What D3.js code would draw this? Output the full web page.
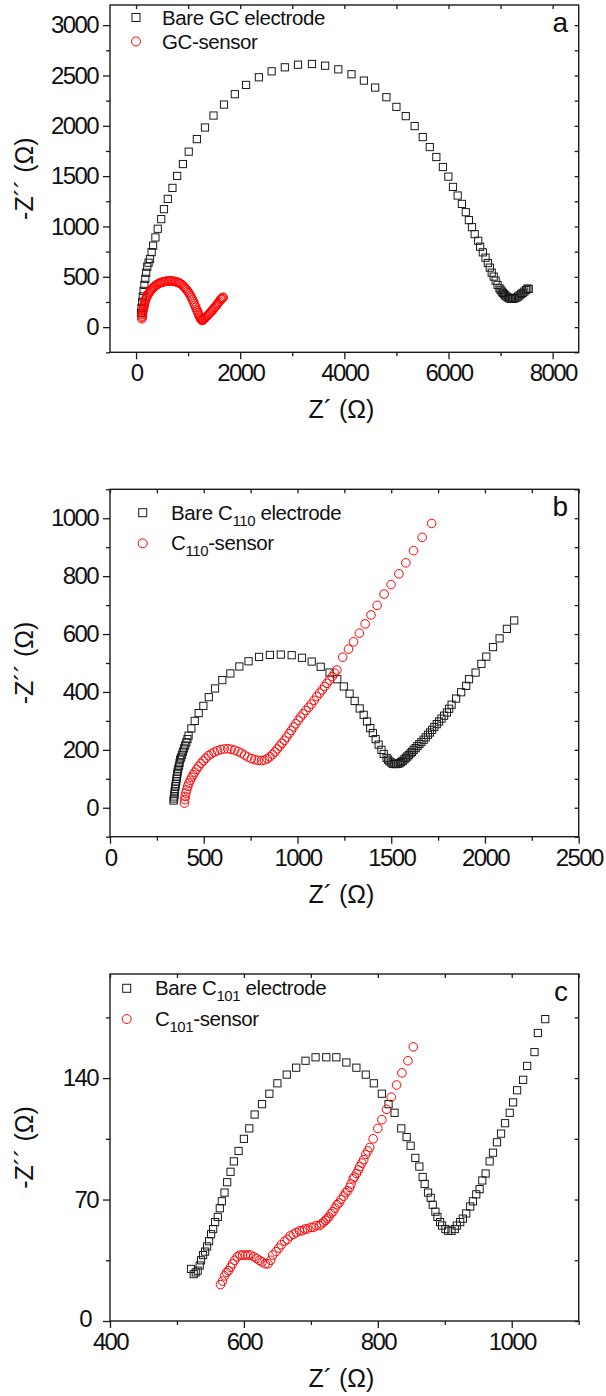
<!DOCTYPE html>
<html>
<head>
	<script src="https://cdn.jsdelivr.net/npm/d3@7"></script>
	<style>
		html, body {
			padding: 0;
			margin: 0;
			background: white;
		}
		text {
			font-family: "Liberation Sans", Arial, sans-serif;
			fill: #111;
		}
	</style>
</head>
<body>
	<script>
		// ~ ~ ~ DATA ~ ~ ~
		// panel a : glassy carbon
		var gcBare = [
			[95,140],[105,190],[118,250],[130,305],[145,360],[160,420],[178,480],[195,540],[215,600],[240,640],
			[268,677],[300,745],[327,809],[372,891],[417,977],[484,1073],[536,1172],[610,1274],[699,1383],[789,1502],
			[900,1620],[1012,1743],[1168,1868],[1324,1983],[1488,2102],[1689,2211],[1897,2314],[2113,2406],[2359,2482],[2604,2541],
			[2857,2581],[3110,2607],[3378,2614],[3631,2597],[3884,2561],[4137,2512],[4375,2449],[4591,2380],[4807,2284],[5000,2188],
			[5179,2096],[5350,1997],[5506,1888],[5640,1789],[5766,1690],[5893,1591],[5997,1495],[6086,1393],[6176,1307],[6257,1224],
			[6332,1142],[6391,1063],[6451,993],[6503,924],[6570,858],[6607,799],[6659,743],[6711,690],[6756,637],[6793,591],
			[6830,541],[6868,502],[6905,462],[6942,419],[6979,386],[7000,370],[7024,353],[7045,340],[7068,327],[7090,315],
			[7113,304],[7140,295],[7165,287],[7190,283],[7217,281],[7245,282],[7277,287],[7305,294],[7336,304],[7365,316],
			[7396,330],[7425,340],[7455,353],[7490,368],[7515,383],[7540,380]
		];
		var gcSensor = [
			[112,83],[115,96],[118,110],[121,125],[125,139],[130,155],[135,170],[141,185],[148,200],[154,214],
			[160,228],[167,244],[175,260],[185,275],[195,290],[208,304],[223,318],[238,332],[255,345],[272,357],
			[290,368],[307,379],[325,390],[341,398],[357,405],[378,414],[400,422],[423,429],[446,436],[470,441],
			[495,446],[519,449],[543,452],[572,455],[600,457],[628,458],[655,459],[683,458],[710,456],[738,454],
			[766,452],[790,447],[815,442],[839,436],[863,429],[887,419],[910,408],[931,396],[952,383],[971,371],
			[990,358],[1008,344],[1027,330],[1046,311],[1065,292],[1083,273],[1101,254],[1116,235],[1130,215],[1146,197],
			[1161,178],[1175,162],[1188,145],[1201,128],[1213,112],[1227,98],[1240,85],[1252,75],[1265,66],[1280,70],
			[1295,75],[1310,82],[1324,89],[1342,98],[1360,108],[1380,118],[1399,129],[1417,140],[1435,150],[1454,161],
			[1473,172],[1492,184],[1510,196],[1529,208],[1548,221],[1567,233],[1585,246],[1604,258],[1622,271],[1636,278],
			[1650,285],[1662,291],[1674,297]
		];

		// panel b : C110
		var c110Bare = [
			[339,25],[341,32],[343,39],[344,47],[345,56],[347,65],[349,74],[351,82],[353,91],[355,100],
			[357,108],[359,117],[361,125],[364,135],[368,145],[371,155],[374,166],[379,174],[384,183],[389,194],
			[395,205],[401,215],[407,226],[413,237],[419,249],[434,274],[452,300],[473,327],[498,352],[527,382],
			[560,412],[599,441],[642,464],[690,488],[739,506],[795,521],[853,528],[911,529],[969,527],[1024,518],
			[1076,505],[1124,487],[1171,467],[1212,444],[1247,419],[1278,394],[1305,369],[1332,343],[1353,321],[1371,298],
			[1388,275],[1402,258],[1417,237],[1433,218],[1448,200],[1460,186],[1475,172],[1483,166],[1491,160],[1500,156],
			[1508,152],[1517,151],[1526,151],[1536,152],[1545,154],[1553,158],[1561,162],[1570,167],[1578,172],[1586,177],
			[1594,182],[1603,188],[1611,193],[1620,200],[1630,206],[1640,213],[1650,220],[1661,227],[1673,235],[1684,243],
			[1696,252],[1707,260],[1718,269],[1730,279],[1743,289],[1755,298],[1768,308],[1782,318],[1797,329],[1809,342],
			[1822,356],[1846,377],[1873,399],[1900,421],[1915,444],[1950,467],[1981,497],[2007,522],[2043,555],[2078,585],
			[2117,618],[2156,647]
		];
		var c110Sensor = [
			[397,16],[399,28],[401,39],[405,51],[409,62],[415,74],[421,85],[428,95],[436,105],[444,114],
			[452,123],[462,133],[473,143],[485,153],[498,162],[511,171],[525,180],[540,186],[556,192],[573,197],
			[591,201],[609,203],[628,204],[646,202],[665,199],[683,194],[700,189],[718,182],[735,175],[754,170],
			[772,166],[790,164],[808,163],[824,165],[839,169],[853,176],[867,184],[880,193],[892,203],[905,213],
			[917,223],[930,233],[942,244],[955,256],[967,267],[979,279],[991,290],[1004,302],[1016,313],[1030,324],
			[1045,336],[1060,347],[1074,358],[1089,371],[1103,384],[1118,396],[1132,407],[1145,419],[1157,430],[1171,441],
			[1185,453],[1198,465],[1210,476],[1241,520],[1272,548],[1299,573],[1330,603],[1361,635],[1392,666],[1425,699],
			[1462,738],[1499,771],[1541,808],[1578,846],[1619,888],[1665,934],[1716,982]
		];

		// panel c : C101
		var c101Bare = [
			[521,30],[525,27],[528,28],[531,29],[534,32],[536,35],[539,38],[542,40],[545,43],[548,46],
			[551,50],[554,53],[557,57],[561,60],[564,65],[567,69],[571,74],[575,80],[580,86],[585,92],
			[592,98],[600,105],[608,111],[616,119],[627,125],[638,131],[650,137],[664,142],[678,146],[692,150],
			[707,152],[723,152],[738,152],[753,149],[768,146],[782,142],[794,137],[806,131],[816,125],[825,120],
			[835,111],[843,106],[849,101],[856,94],[862,89],[867,83],[870,79],[875,74],[879,71],[882,67],
			[886,63],[889,60],[893,57],[896,55],[901,53],[905,52],[910,52],[915,53],[918,55],[923,57],
			[927,59],[932,62],[938,66],[942,69],[947,73],[952,76],[956,81],[961,85],[967,92],[972,97],
			[978,103],[984,108],[990,114],[997,120],[1002,126],[1008,133],[1017,139],[1023,147],[1034,155],[1039,166],
			[1050,174]
		];
		var c101Sensor = [
			[565,21],[568,23],[571,26],[574,28],[577,29],[580,31],[583,33],[586,35],[590,37],[594,38],
			[598,38],[602,38],[606,38],[610,38],[615,37],[619,36],[623,35],[627,34],[632,33],[636,33],
			[640,35],[643,38],[648,40],[652,42],[656,44],[661,46],[665,47],[669,49],[674,50],[678,51],
			[683,52],[687,52],[691,53],[695,53],[700,54],[704,54],[708,55],[713,55],[716,56],[719,57],
			[722,58],[724,59],[727,60],[730,62],[733,63],[736,65],[739,67],[742,68],[745,70],[749,72],
			[752,74],[755,75],[758,77],[760,79],[763,82],[765,83],[768,85],[771,87],[773,89],[776,91],
			[779,93],[782,96],[785,98],[788,100],[793,105],[800,111],[806,116],[813,122],[820,129],[828,136],
			[836,143],[845,150],[853,158]
		];

		// axes ticks
		var aXTicks = [0, 2000, 4000, 6000, 8000];
		var aXMinor = [1000, 3000, 5000, 7000];
		var aYTicks = [0, 500, 1000, 1500, 2000, 2500, 3000];
		var aYMinor = [-250, 250, 750, 1250, 1750, 2250, 2750];
		var bXTicks = [0, 500, 1000, 1500, 2000, 2500];
		var bXMinor = [250, 750, 1250, 1750, 2250];
		var bYTicks = [0, 200, 400, 600, 800, 1000];
		var bYMinor = [-100, 100, 300, 500, 700, 900, 1100];
		var cXTicks = [400, 600, 800, 1000];
		var cXMinor = [500, 700, 900, 1100];
		var cYTicks = [0, 70, 140];
		var cYMinor = [35, 105, 175];

		var bareLabels = [["Bare GC electrode"], ["Bare C", "110", " electrode"], ["Bare C", "101", " electrode"]];
		var sensorLabels = [["GC-sensor"], ["C", "110", "-sensor"], ["C", "101", "-sensor"]];
		var panelLetters = ["a", "b", "c"];

		// ~ ~ ~ LAYOUT ~ ~ ~
		var width = 606, height = 1396;
		var LEFT = 110, RIGHT = 578.7;
		var INK = "#1a1a1a";
		var RED = "#ff0000";

		var panels = [
			{ top: 5, bottom: 352.3, xDom: [-500, 8500], yDom: [-250, 3200],
				xT: aXTicks, xM: aXMinor, yT: aYTicks, yM: aYMinor, bare: gcBare, sensor: gcSensor,
				leg: { x: 136, y1: 17.5, y2: 41.5, tx: 162 } },
			{ top: 489.3, bottom: 836.7, xDom: [0, 2500], yDom: [-100, 1100],
				xT: bXTicks, xM: bXMinor, yT: bYTicks, yM: bYMinor, bare: c110Bare, sensor: c110Sensor,
				leg: { x: 142.7, y1: 512.7, y2: 543.3, tx: 171 } },
			{ top: 974, bottom: 1321, xDom: [400, 1100], yDom: [0, 200],
				xT: cXTicks, xM: cXMinor, yT: cYTicks, yM: cYMinor, bare: c101Bare, sensor: c101Sensor,
				leg: { x: 126.7, y1: 988.3, y2: 1019, tx: 155 } }
		];

		var svg = d3.select('body').append('svg')
			.attr('width', width)
			.attr('height', height);

		var fmt = d3.format("d");

		panels.forEach(function(p, i) {
			var x = d3.scaleLinear().domain(p.xDom).range([LEFT, RIGHT]);
			var y = d3.scaleLinear().domain(p.yDom).range([p.bottom, p.top]);
			var g = svg.append("g");

			// bottom axis, major + minor
			var gx = g.append("g").attr("transform", "translate(0," + p.bottom + ")");
			gx.call(d3.axisBottom(x).tickValues(p.xT).tickFormat(fmt).tickSize(7).tickPadding(5).tickSizeOuter(0));
			gx.append("g").call(d3.axisBottom(x).tickValues(p.xM).tickSize(4).tickFormat("").tickSizeOuter(0));
			// left axis
			var gy = g.append("g").attr("transform", "translate(" + LEFT + ",0)");
			gy.call(d3.axisLeft(y).tickValues(p.yT).tickFormat(fmt).tickSize(7).tickPadding(5).tickSizeOuter(0));
			gy.append("g").call(d3.axisLeft(y).tickValues(p.yM).tickSize(4).tickFormat("").tickSizeOuter(0));
			// top / right inward ticks
			var gt = g.append("g").attr("transform", "translate(0," + p.top + ")");
			gt.call(d3.axisBottom(x).tickValues(p.xT.concat(p.xM)).tickSize(4).tickFormat("").tickSizeOuter(0));
			var gr = g.append("g").attr("transform", "translate(" + RIGHT + ",0)");
			gr.call(d3.axisLeft(y).tickValues(p.yT.concat(p.yM)).tickSize(4).tickFormat("").tickSizeOuter(0));

			g.selectAll(".domain").remove();
			g.selectAll(".tick line").attr("stroke", INK).attr("stroke-width", 1.3);
			g.selectAll(".tick text")
				.style("font-family", '"Liberation Sans", Arial, sans-serif')
				.style("font-size", "24px")
				.style("letter-spacing", "-1.6px")
				.attr("fill", INK);

			// corner: y "0" sits next to the x "400" label, nudge it clear
			if (p.yDom[0] == 0)
				gy.selectAll(".tick text").filter((d) => d == 0)
					.attr("x", -19).attr("dy", "0.22em");

			// frame
			g.append("rect")
				.attr("x", LEFT).attr("y", p.top)
				.attr("width", RIGHT - LEFT).attr("height", p.bottom - p.top)
				.attr("fill", "none").attr("stroke", INK).attr("stroke-width", 1.4);

			// data
			g.append("g").selectAll("rect")
				.data(p.bare)
				.enter().append("rect")
				.attr("x", (d) => x(d[0]) - 3.6)
				.attr("y", (d) => y(d[1]) - 3.6)
				.attr("width", 7.2).attr("height", 7.2)
				.attr("fill", "none").attr("stroke", INK).attr("stroke-width", 1);

			g.append("g").selectAll("circle")
				.data(p.sensor)
				.enter().append("circle")
				.attr("cx", (d) => x(d[0]))
				.attr("cy", (d) => y(d[1]))
				.attr("r", 4.3)
				.attr("fill", "none").attr("stroke", RED).attr("stroke-width", 1);

			// legend
			g.append("rect")
				.attr("x", p.leg.x - 4).attr("y", p.leg.y1 - 4)
				.attr("width", 8).attr("height", 8)
				.attr("fill", "none").attr("stroke", INK).attr("stroke-width", 1);
			g.append("circle")
				.attr("cx", p.leg.x).attr("cy", p.leg.y2).attr("r", 4.5)
				.attr("fill", "none").attr("stroke", RED).attr("stroke-width", 1);

			var addLabel = function(parts, yy) {
				var t = g.append("text")
					.attr("x", p.leg.tx).attr("y", yy + 7)
					.style("font-size", "20.5px")
					.style("letter-spacing", "-0.4px");
				parts.forEach(function(s, k) {
					var ts = t.append("tspan").text(s);
					if (k == 1)
						ts.attr("dy", 6).style("font-size", "15px");
					if (k == 2)
						ts.attr("dy", -6);
				});
			};
			addLabel(bareLabels[i], p.leg.y1);
			addLabel(sensorLabels[i], p.leg.y2);

			g.append("text")
				.attr("x", 568).attr("y", p.top + 27)
				.attr("text-anchor", "end")
				.style("font-size", "28px")
				.text(panelLetters[i]);

			// axis titles
			g.append("text")
				.attr("x", (LEFT + RIGHT) / 2 - 3)
				.attr("y", p.bottom + 66)
				.attr("text-anchor", "middle")
				.style("font-size", "25px")
				.text("Z\u00B4 (\u03A9)");
			g.append("text")
				.attr("transform", "translate(33," + ((p.top + p.bottom) / 2) + ") rotate(-90)")
				.attr("text-anchor", "middle")
				.style("font-size", "25px")
				.text("-Z\u00B4\u00B4 (\u03A9)");
		});
	</script>
</body>
</html>
